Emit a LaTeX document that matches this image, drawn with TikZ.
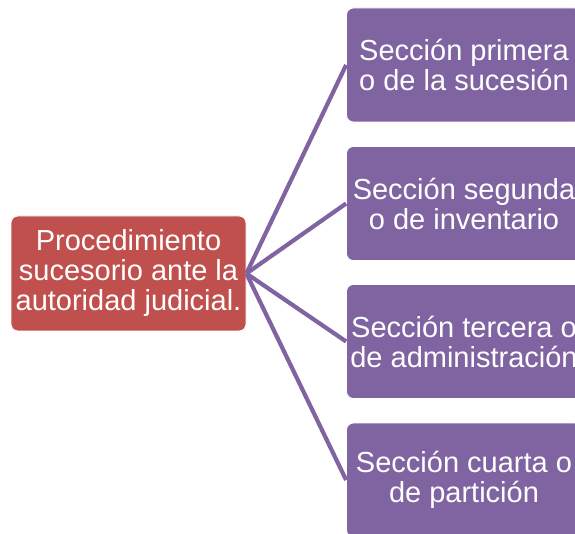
\documentclass[tikz,border=0pt]{standalone}
\usepackage{fontspec}
\setmainfont{Liberation Sans}
\definecolor{boxred}{HTML}{C0504D}
\definecolor{boxpurple}{HTML}{8064A2}
\begin{document}
\begin{tikzpicture}[x=1pt,y=1pt,
  basebox/.style={rounded corners=7pt, draw=white, line width=0.8pt, text=white, align=center,
    minimum width=235pt, minimum height=114pt, inner sep=0pt,
    font=\fontsize{29}{30}\selectfont},
  rootbox/.style={basebox, fill=boxred, minimum height=115pt},
  leafbox/.style={basebox, fill=boxpurple},
  link/.style={draw=boxpurple, line width=4.2pt}]
\useasboundingbox (0,0) rectangle (575,533);
\clip (0,0) rectangle (575,533);
\node[rootbox] (root) at (128.5,259.5) {Procedimiento\\sucesorio ante la\\autoridad judicial.};
\node[leafbox] (s1) at (464,468) {Sección primera\\o de la sucesión};
\node[leafbox] (s2) at (464,329.5) {Sección segunda\\o de inventario};
\node[leafbox] (s3) at (464,191.5) {Sección tercera o\\de administración};
\node[leafbox] (s4) at (464,53) {Sección cuarta o\\de partición};
\draw[link] (root.east) -- (s1.west);
\draw[link] (root.east) -- (s2.west);
\draw[link] (root.east) -- (s3.west);
\draw[link] (root.east) -- (s4.west);
\end{tikzpicture}
\end{document}
